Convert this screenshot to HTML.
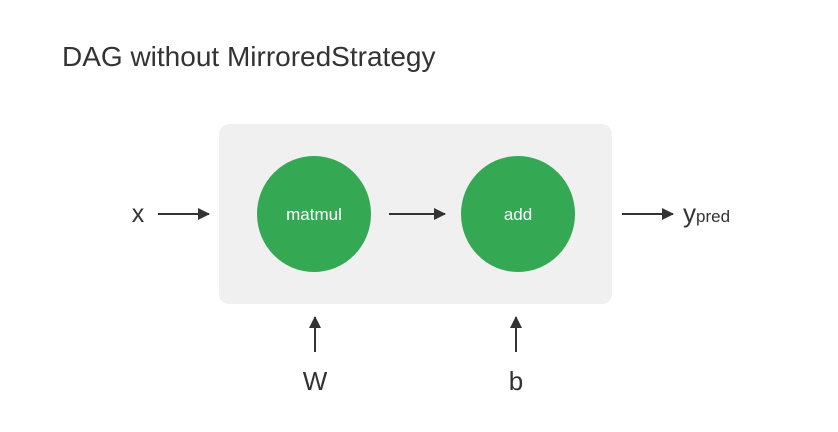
<!DOCTYPE html>
<html><head><style>
body{margin:0;width:838px;height:427px;background:#fff;overflow:hidden;font-family:"Liberation Sans",sans-serif;}
</style></head><body>
<svg width="838" height="427" xmlns="http://www.w3.org/2000/svg" font-family="Liberation Sans, sans-serif">
<defs><marker id="a" markerWidth="12" markerHeight="12" refX="11" refY="6" orient="auto" markerUnits="userSpaceOnUse"><path d="M0,0 L12,6 L0,12 z" fill="#333"/></marker></defs>
<text x="62" y="66" font-size="28" fill="#333">DAG without MirroredStrategy</text>
<rect x="219" y="124" width="393" height="180" rx="10" fill="#f0f0f1"/>
<ellipse cx="314" cy="214" rx="57" ry="58" fill="#34a853"/>
<ellipse cx="518" cy="214" rx="57" ry="58" fill="#34a853"/>
<text x="314" y="220" font-size="17" fill="#fff" text-anchor="middle">matmul</text>
<text x="518" y="220" font-size="17" fill="#fff" text-anchor="middle">add</text>
<g stroke="#333" stroke-width="2" marker-end="url(#a)">
<line x1="158" y1="214" x2="209" y2="214"/>
<line x1="389" y1="214" x2="445" y2="214"/>
<line x1="622" y1="214" x2="673" y2="214"/>
<line x1="315" y1="352" x2="315" y2="317"/>
<line x1="516" y1="352" x2="516" y2="317"/>
</g>
<text x="138" y="222" font-size="25" fill="#333" text-anchor="middle">x</text>
<text x="683" y="222" font-size="26" fill="#333">y<tspan font-size="17">pred</tspan></text>
<text x="315" y="390" font-size="26" fill="#333" text-anchor="middle">W</text>
<text x="516" y="390" font-size="26" fill="#333" text-anchor="middle">b</text>
</svg>
</body></html>
